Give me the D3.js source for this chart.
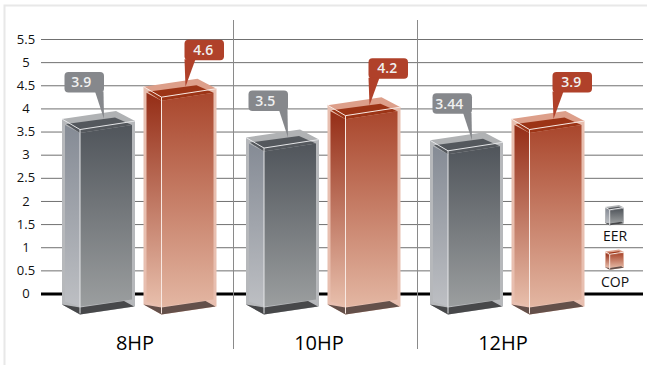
<!DOCTYPE html>
<html>
<head>
<meta charset="utf-8">
<script src="https://d3js.org/d3.v7.min.js"></script>
<style>
html, body { margin: 0; padding: 0; background: #fff; }
svg { display: block; }
text { font-family: "Open Sans", sans-serif; fill: #111; }
</style>
</head>
<body>
<div id="chart"></div>
<script>
var categories = ["8HP", "10HP", "12HP"];
var seriesNames = ["EER", "COP"];
var eerValues = [3.9, 3.5, 3.44];
var copValues = [4.6, 4.2, 3.9];
var tickValues = [0, 0.5, 1, 1.5, 2, 2.5, 3, 3.5, 4, 4.5, 5, 5.5];

var width = 647, height = 365;

var palette = {
	EER: { frontTop: "#50555b", frontBottom: "#9b9e9f", sideTop: "#858b95", sideBottom: "#bdbfc3",
		glass: "#b6b8bb", cap: "#b0b2b4", lid: "#54585d", floor: "#47484a", rim: "#e4e5e7", label: "#86888c", labelShift: -3 },
	COP: { frontTop: "#a9462c", frontBottom: "#e3b6a2", sideTop: "#952d16", sideBottom: "#e8bfac",
		glass: "#e8bfb0", cap: "#dd9f8a", lid: "#9c3416", floor: "#64504a", rim: "#f8e8e2", label: "#b0412a", labelShift: -1 }
};

var svg = d3.select("#chart").append("svg")
	.attr("width", width)
	.attr("height", height);

// frame
svg.append("rect")
	.attr("x", 4.5)
	.attr("y", 5.5)
	.attr("width", width)
	.attr("height", height)
	.attr("fill", "none")
	.attr("stroke", "#e8e8e8")
	.attr("stroke-width", 2);

var y = d3.scaleLinear().domain([0, 5.5]).range([293.5, 39]);
var xGroup = d3.scaleBand().domain(categories).range([50, 602]);
var xSeries = d3.scaleBand().domain(seriesNames).range([12, 175]);

// gradients for the box faces
var defs = svg.append("defs");
seriesNames.forEach(function(name) {
	var c = palette[name];
	[["front", c.frontTop, c.frontBottom], ["side", c.sideTop, c.sideBottom]].forEach(function(g) {
		var grad = defs.append("linearGradient")
			.attr("id", name + "-" + g[0])
			.attr("x1", 0).attr("y1", 0).attr("x2", 0).attr("y2", 1);
		grad.append("stop").attr("offset", 0).attr("stop-color", g[1]);
		grad.append("stop").attr("offset", 1).attr("stop-color", g[2]);
	});
});

// y axis with grid lines
var yAxis = d3.axisLeft(y)
	.tickValues(tickValues)
	.tickFormat(function(d) { return d; })
	.tickSize(-(643 - 41))
	.tickPadding(6);

var axisGroup = svg.append("g")
	.attr("class", "y-axis")
	.attr("transform", "translate(41,0)")
	.call(yAxis);

axisGroup.select(".domain").remove();
axisGroup.selectAll(".tick line")
	.attr("stroke", function(d) { return d === 0 ? "#000" : "#707070"; })
	.attr("stroke-width", function(d) { return d === 0 ? 3 : 1; });
axisGroup.selectAll(".tick text")
	.attr("x", -15)
	.attr("text-anchor", "middle")
	.attr("font-size", 13)
	.style("font-family", '"Open Sans", sans-serif')
	.attr("fill", "#111");

// dividers between the groups
svg.selectAll(".divider")
	.data(categories.slice(1))
	.enter()
	.append("line")
	.attr("class", "divider")
	.attr("x1", function(d) { return xGroup(d) - 0.5; })
	.attr("x2", function(d) { return xGroup(d) - 0.5; })
	.attr("y1", 20)
	.attr("y2", 349)
	.attr("stroke", "#8a8a8a");

// category labels
svg.selectAll(".category")
	.data(categories)
	.enter()
	.append("text")
	.attr("class", "category")
	.attr("x", function(d) { return xGroup(d) + 85; })
	.attr("y", 350)
	.attr("text-anchor", "middle")
	.attr("font-size", 20)
	.style("fill", "#000")
	.text(function(d) { return d; });

function poly(g, pts, fill) {
	return g.append("polygon")
		.attr("points", pts.map(function(p) { return p.join(","); }).join(" "))
		.attr("fill", fill);
}

// glass box: x0 is the left corner, top the back corner of the lid, bottom the floor of the box
function drawBox(g, name, x0, top, bottom) {
	var c = palette[name];

	// outer shell
	poly(g, [[x0, top + 8], [x0 + 18, top + 18.5], [x0 + 73, top + 10], [x0 + 73, bottom + 2], [x0 + 18, bottom + 10], [x0, bottom]], c.glass);
	poly(g, [[x0, top + 8], [x0 + 54, top], [x0 + 73, top + 10], [x0 + 18, top + 18.5]], c.cap);

	// left and front faces
	poly(g, [[x0 + 3, top + 14], [x0 + 18, top + 22], [x0 + 18, bottom + 2], [x0 + 3, bottom - 3]], "url(#" + name + "-side)");
	poly(g, [[x0 + 18, top + 22], [x0 + 70, top + 14], [x0 + 70, bottom - 5], [x0 + 18, bottom + 2]], "url(#" + name + "-front)");

	// lid seen through the glass
	poly(g, [[x0 + 4, top + 13], [x0 + 53, top + 6.5], [x0 + 70, top + 14], [x0 + 18, top + 22]], c.lid);

	// floor
	poly(g, [[x0, bottom], [x0 + 18, bottom + 3], [x0 + 62, bottom - 3.5], [x0 + 72, bottom + 2], [x0 + 18, bottom + 10]], c.floor);

	// bright edges of the shell
	g.append("polyline")
		.attr("points", [[x0, top + 8], [x0 + 18, top + 18.5], [x0 + 73, top + 10]].map(function(p) { return p.join(","); }).join(" "))
		.attr("fill", "none")
		.attr("stroke", c.rim)
		.attr("stroke-width", 1)
		.attr("vector-effect", "non-scaling-stroke");
	g.append("line")
		.attr("x1", x0 + 18).attr("x2", x0 + 18)
		.attr("y1", top + 18.5).attr("y2", bottom + 9)
		.attr("stroke", c.rim)
		.attr("stroke-width", 1)
		.attr("vector-effect", "non-scaling-stroke");
}

// speech bubble with its pointer ending on the lid of the box
function drawCallout(g, name, value, tipX, tipY) {
	var c = palette[name];
	var w = 39.5, h = 20.5;
	var left = name === "EER" ? tipX - 39.5 : tipX - 1;
	var top = tipY - 47;
	var base = name === "EER" ? [tipX - 9, tipX - 0.5] : [tipX - 1, tipX + 10];

	g.append("rect")
		.attr("x", left)
		.attr("y", top)
		.attr("width", w)
		.attr("height", h)
		.attr("rx", 4)
		.attr("fill", c.label);
	poly(g, [[base[0], top + h - 1], [base[1], top + h - 1], [tipX, tipY]], c.label);
	g.append("text")
		.attr("x", left + w / 2 + c.labelShift)
		.attr("y", top + h / 2 + 5)
		.attr("text-anchor", "middle")
		.attr("font-size", 14)
		.attr("font-weight", 600)
		.style("fill", "#f0f0f0")
		.text(d3.format("~g")(value));
}

// bars
var bottomY = y(0) + 11;
var seriesValues = { EER: eerValues, COP: copValues };

seriesNames.forEach(function(name) {
	var seriesGroup = svg.append("g").attr("class", "series-" + name);

	seriesValues[name].forEach(function(v, i) {
		var x0 = xGroup(categories[i]) + xSeries(name);
		var barGroup = seriesGroup.append("g");
		drawBox(barGroup, name, x0, y(v) - 2, bottomY);
		drawCallout(barGroup, name, v, x0 + 42, y(v) + 6);
	});
});

// legend
var legendRows = [[205, 241], [249.5, 287]];
seriesNames.forEach(function(name, i) {
	var k = 0.26;
	var icon = svg.append("g")
		.attr("transform", "translate(605," + legendRows[i][0] + ") scale(" + k + ")");
	drawBox(icon, name, 0, 0, 68);
	svg.append("text")
		.attr("x", 615)
		.attr("y", legendRows[i][1])
		.attr("text-anchor", "middle")
		.attr("font-size", 14)
		.text(name);
});
</script>
</body>
</html>
